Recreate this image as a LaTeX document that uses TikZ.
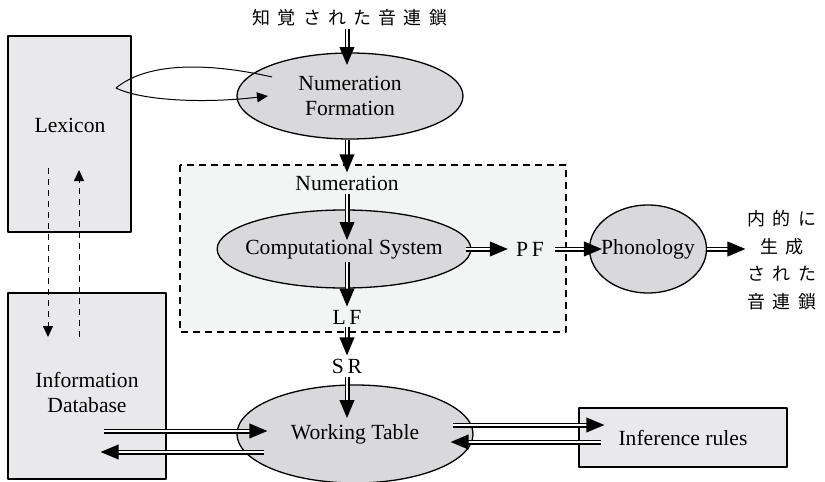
\documentclass[tikz,border=0pt]{standalone}
\usepackage{fontspec}
\setmainfont{Liberation Serif}
\newfontfamily\jp[LetterSpace=40]{Noto Sans CJK JP}
\usetikzlibrary{arrows.meta,calc,shapes.geometric,decorations.markings}
\definecolor{boxgray}{RGB}{233,233,235}
\definecolor{ellgray}{RGB}{217,217,219}
\definecolor{csback}{RGB}{243,245,245}
\begin{document}
\begin{tikzpicture}[x=0.5pt,y=-0.5pt,font=\fontsize{10.8}{12.5}\selectfont,line join=round,
	box/.style={draw,line width=0.65pt,fill=boxgray,inner sep=0pt},
	ell/.style={draw,ellipse,line width=0.65pt,fill=ellgray,inner sep=0pt,align=center},
	lbl/.style={inner sep=1.5pt},
	jptxt/.style={font=\jp\fontsize{9}{13.75}\selectfont,inner sep=1pt,align=center},
	dbl/.style={double,double distance=1.3pt,line width=0.6pt,shorten >=7pt,
		postaction={decorate,decoration={markings,mark=at position 1 with
		{\fill[shorten >=0pt,shorten <=0pt] (0,0) -- (-9pt,3.8pt) -- (-9pt,-3.8pt) -- cycle;}}}},
	thinarr/.style={line width=0.5pt,-{Triangle[length=5.5pt,width=5pt]}}]
\useasboundingbox (0,0) rectangle (825,482);
% computational system area
\draw[dashed,dash pattern=on 3.5pt off 2.5pt,line width=0.6pt,fill=csback] (180,165) rectangle (566,332);
% boxes
\node[box,minimum width=61.5pt,minimum height=98pt] (lex) at (69.5,134) {};
\node (lextxt) at (70,125) {Lexicon};
\node[box,minimum width=79pt,minimum height=93pt] (info) at (87,386) {};
\node[align=center] (infotxt) at (87,392) {Information\\Database};
\node[box,minimum width=104pt,minimum height=29.5pt] (inf) at (683,437.5) {Inference rules};
% ellipses
\node[ell,minimum width=113pt,minimum height=43pt] (nf) at (350,96) {Numeration\\Formation};
\node[ell,inner xsep=-4.5pt,minimum width=125pt,minimum height=39pt] (cs) at (344,249) {Computational System};
\node[ell,inner xsep=-2.8pt,minimum width=58.5pt,minimum height=44pt] (phon) at (648,249) {Phonology};
\node[ell,minimum width=118pt,minimum height=49pt] (wt) at (355,434) {Working Table};
% labels
\node[lbl] (numer) at (347,183) {Numeration};
\node[lbl] (lf) at (347,317) {L\,F};
\node[lbl] (sr) at (347,366) {S\,R};
\node[lbl] (pf) at (530,249) {P\,F};
\node[jptxt] (perc) at (350,18) {知覚された音連鎖};
\node[jptxt] (out) at (782,260) {内的に\\生成\\された\\音連鎖};
% main flow
\draw[dbl] (perc.south -| numer.north) -- ($(numer.north |- nf.center)+(0,-31)$);
\draw[dbl] (nf.south -| numer.north) -- (numer.north);
\draw[dbl] (numer.south) -- ($(numer.south |- cs.center)+(0,-9)$);
\draw[dbl] ($(lf.north |- cs.center)+(0,13)$) -- (lf.north);
\draw[dbl] (lf.south) -- (sr.north);
\draw[dbl] (sr.south) -- ($(sr.south |- wt.center)+(0,-16)$);
\draw[dbl] ($(cs.east)+(-6,0)$) -- ($(pf.west)+(-5,0)$);
\draw[dbl] ($(pf.east)+(8,0)$) -- ($(phon.west)+(13,0)$);
\draw[dbl] (phon.east) -- (phon.east -| out.west);
% working table links
\draw[dbl] ($(info.east)+(-63,45)$) -- ($(wt.west)+(31,-3)$);
\draw[dbl] ($(wt.west)+(28,18)$) -- ($(info.east)+(-66,66)$);
\draw[dbl] ($(wt.east)+(-21,-9)$) -- ($(inf.west)+(26,-12.5)$);
\draw[dbl] ($(inf.west)+(23,4.5)$) -- ($(wt.east)+(-23,8)$);
% lexicon <-> database
\coordinate (lexdown) at (48,168);
\coordinate (infodown) at (48,337);
\coordinate (infoup) at (79,337);
\coordinate (lexup) at (79,170);
\draw[thinarr,dashed,dash pattern=on 3pt off 2.5pt] (lexdown) -- (infodown);
\draw[thinarr,dashed,dash pattern=on 3pt off 2.5pt] (infoup) -- (lexup);
% lexicon loop
\coordinate (loopstart) at (272,77);
\coordinate (loopend) at (268,96);
\draw[thinarr] (loopstart) .. controls (215,64) and (150,60) .. (116,88) .. controls (140,100) and (200,104) .. (loopend);
\end{tikzpicture}
\end{document}
